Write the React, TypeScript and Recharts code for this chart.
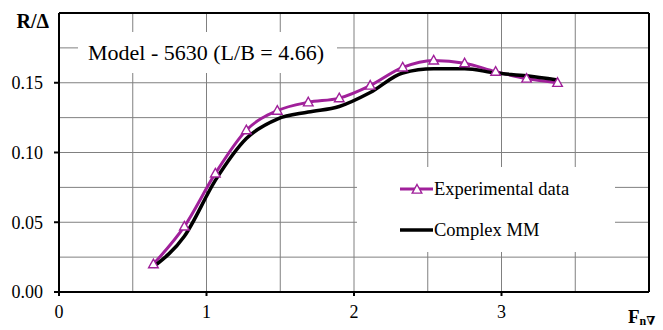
import React from 'react'
import {
  LineChart,
  Line,
  XAxis,
  YAxis,
  CartesianGrid,
  ReferenceLine,
  Legend,
} from 'recharts'

// Froude number (volumetric) vs R/Δ, model 5630
const froude = [0.64, 0.85, 1.06, 1.27, 1.48, 1.69, 1.9, 2.11, 2.33, 2.54, 2.75, 2.96, 3.17, 3.38]
const experimental = [0.02, 0.047, 0.085, 0.116, 0.13, 0.136, 0.139, 0.148, 0.161, 0.166, 0.164, 0.158, 0.153, 0.15]
const complexMM = [0.018, 0.04, 0.08, 0.11, 0.124, 0.129, 0.133, 0.143, 0.157, 0.16, 0.16, 0.157, 0.155, 0.152]

const xTicks = [0, 0.5, 1, 1.5, 2, 2.5, 3, 3.5, 4]
const xLabels = [0, 1, 2, 3]
const yTicks = [0, 0.025, 0.05, 0.075, 0.1, 0.125, 0.15, 0.175, 0.2]
const yLabels = [0, 0.05, 0.1, 0.15]
const seriesOrder = ['exp', 'mm']

const title = 'Model - 5630 (L/B = 4.66)'

const PURPLE = '#a0209a'
const FONT = 'Liberation Serif, DejaVu Serif, serif'

const data = froude.map((fn, i) => ({
  fn,
  exp: experimental[i],
  mm: complexMM[i],
}))

const near = (a: number, b: number) => Math.abs(a - b) < 1e-6

const Triangle = ({ cx, cy }: { cx: number; cy: number }) => (
  <path
    d={`M${cx},${cy - 5} L${cx + 4.8},${cy + 3.6} L${cx - 4.8},${cy + 3.6} Z`}
    fill='#fff'
    stroke={PURPLE}
    strokeWidth={1.4}
  />
)

const YTick = (props: any) => {
  const { x, y, payload } = props
  const v = payload.value
  if (near(v, 0.2)) {
    return (
      <text x={49} y={y + 15} textAnchor='end' fontWeight='bold' fontSize={20} fontFamily={FONT} fill='#000'>
        R/Δ
      </text>
    )
  }
  if (!yLabels.some((l) => near(l, v))) return <g />
  return (
    <g>
      <line x1={x - 5} x2={x} y1={y} y2={y} stroke='#000' strokeWidth={2} />
      <text x={x - 16} y={y} dy='0.35em' textAnchor='end' fontSize={18} fontFamily={FONT} fill='#000'>
        {v.toFixed(2)}
      </text>
    </g>
  )
}

const XTick = (props: any) => {
  const { x, y, payload } = props
  const v = payload.value
  if (near(v, 4)) {
    return (
      <text x={x - 21} y={y + 31} fontWeight='bold' fontFamily={FONT} fill='#000'>
        <tspan fontSize={19}>F</tspan>
        <tspan fontSize={12} dy={2}>n∇</tspan>
      </text>
    )
  }
  if (!xLabels.some((l) => near(l, v))) return <g />
  return (
    <g>
      <line x1={x} x2={x} y1={y} y2={y + 4} stroke='#000' strokeWidth={2} />
      <text x={x} y={y + 26} textAnchor='middle' fontSize={18} fontFamily={FONT} fill='#000'>
        {v}
      </text>
    </g>
  )
}

const renderLegend = (props: any) => {
  const items = [...(props.payload || [])].sort(
    (a: any, b: any) => seriesOrder.indexOf(a.dataKey) - seriesOrder.indexOf(b.dataKey)
  )
  return (
    <div style={{ position: 'relative', width: 258, height: 85, background: '#fff', fontFamily: FONT, fontSize: 18.5, color: '#000' }}>
      {items.map((item: any, i: number) => {
        const cy = i === 0 ? 22 : 63
        const isExp = item.dataKey === 'exp'
        return (
          <React.Fragment key={item.value}>
            <svg style={{ position: 'absolute', left: 0, top: cy - 8 }} width={80} height={16}>
              <line x1={43} x2={76} y1={8} y2={8} stroke={item.color} strokeWidth={isExp ? 3 : 3.5} />
              {isExp && <Triangle cx={60} cy={8.5} />}
            </svg>
            <span style={{ position: 'absolute', left: 77, top: cy - 11, lineHeight: '22px', whiteSpace: 'nowrap' }}>
              {item.value}
            </span>
          </React.Fragment>
        )
      })}
    </div>
  )
}

export default function App() {
  return (
    <div style={{ position: 'absolute', left: 0, top: 0, width: 663, height: 330, background: '#fff', fontFamily: FONT }}>
      <LineChart width={663} height={330} data={data} margin={{ top: 13, right: 14, bottom: 8, left: 0 }}>
        <CartesianGrid stroke='#808080' strokeWidth={1} />
        <XAxis
          dataKey='fn'
          type='number'
          domain={[0, 4]}
          ticks={xTicks}
          interval={0}
          height={30}
          tickSize={0}
          tickMargin={0}
          tickLine={false}
          tick={<XTick />}
          axisLine={{ stroke: '#000', strokeWidth: 2 }}
        />
        <YAxis
          type='number'
          domain={[0, 0.2]}
          ticks={yTicks}
          interval={0}
          width={59}
          tickSize={0}
          tickMargin={0}
          tickLine={false}
          tick={<YTick />}
          axisLine={{ stroke: '#000', strokeWidth: 2 }}
        />
        <ReferenceLine y={0.2} stroke='#000' strokeWidth={2} />
        <ReferenceLine x={4} stroke='#000' strokeWidth={2} />
        <Line
          name='Experimental data'
          dataKey='exp'
          type='monotone'
          stroke={PURPLE}
          strokeWidth={3}
          dot={(p: any) => <Triangle key={`t${p.index}`} cx={p.cx} cy={p.cy} />}
          isAnimationActive={false}
        />
        <Line
          name='Complex MM'
          dataKey='mm'
          type='monotone'
          stroke='#000'
          strokeWidth={3.5}
          dot={false}
          isAnimationActive={false}
        />
        <Legend
          layout='vertical'
          align='center'
          verticalAlign='middle'
          content={renderLegend}
          wrapperStyle={{ left: 357, top: 167, width: 258, height: 85 }}
        />
      </LineChart>
      <div
        style={{
          position: 'absolute',
          left: 78,
          top: 32,
          width: 259,
          height: 41,
          background: '#fff',
          fontSize: 22,
          lineHeight: '41px',
          paddingLeft: 10,
          boxSizing: 'border-box',
          whiteSpace: 'nowrap',
          color: '#000',
        }}>
        {title}
      </div>
    </div>
  )
}
